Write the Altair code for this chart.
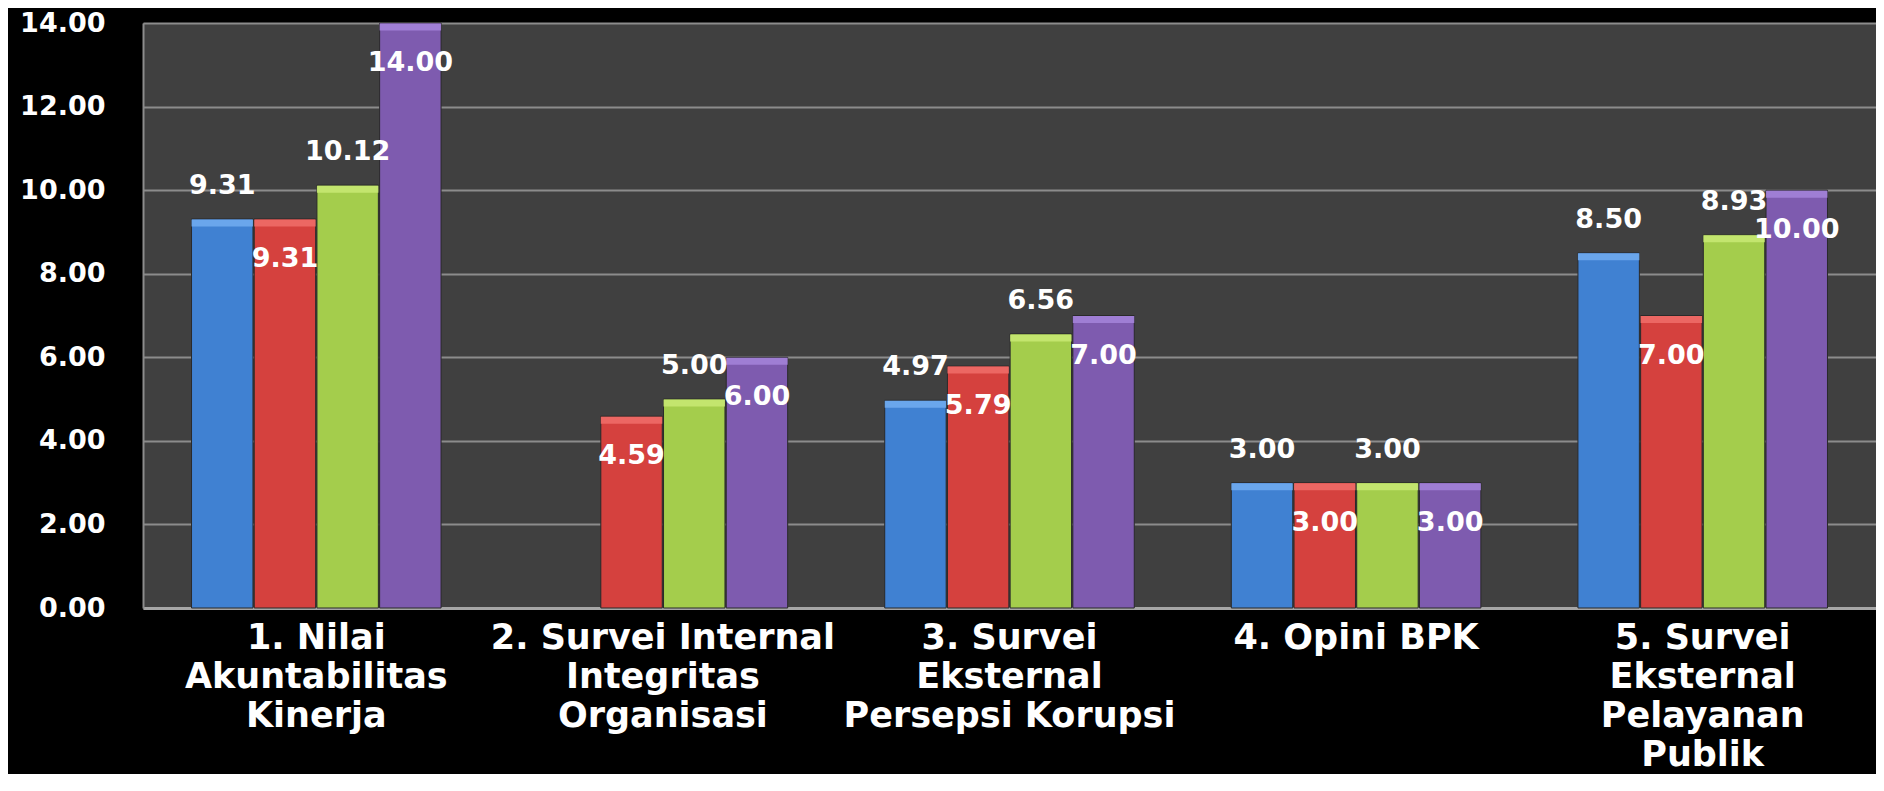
import altair as alt
import pandas as pd

categories = [
    "1. Nilai|Akuntabilitas|Kinerja",
    "2. Survei Internal|Integritas|Organisasi",
    "3. Survei|Eksternal|Persepsi Korupsi",
    "4. Opini BPK",
    "5. Survei|Eksternal|Pelayanan|Publik",
]
series = ["Seri 1", "Seri 2", "Seri 3", "Seri 4"]
colors = ["#4081D2", "#D5413E", "#A4CD4C", "#7E5BAF"]
highlight = ["#6FAAEE", "#EE6B67", "#C6E872", "#A382D8"]
s1 = [9.31, None, 4.97, 3.00, 8.50]
s2 = [9.31, 4.59, 5.79, 3.00, 7.00]
s3 = [10.12, 5.00, 6.56, 3.00, 8.93]
s4 = [14.00, 6.00, 7.00, 3.00, 10.00]

rows = []
for name, vals in zip(series, [s1, s2, s3, s4]):
    for c, v in zip(categories, vals):
        if v is not None:
            rows.append({"cat": c, "series": name, "value": v})
df = pd.DataFrame(rows)

FONT_NUM = "DejaVu Sans"

x = alt.X("cat:N", sort=categories, title=None,
          scale=alt.Scale(paddingInner=0.28, paddingOuter=0.14),
          axis=alt.Axis(labelExpr="split(datum.label, '|')", labelAngle=0,
                        labelFont="DejaVu Sans", labelFontSize=35, labelFontWeight="bold",
                        labelColor="white", labelLineHeight=39, labelPadding=12,
                        labelLimit=400, ticks=False, domainColor="#A6A6A6",
                        domainWidth=3, labelOverlap=False))
xo = alt.XOffset("series:N", scale=alt.Scale(domain=series, paddingInner=0.02))
y = alt.Y("value:Q", title=None,
          scale=alt.Scale(domain=[0, 14], nice=False),
          axis=alt.Axis(values=[0, 2, 4, 6, 8, 10, 12, 14], format=".2f",
                        labelFont=FONT_NUM, labelFontSize=27, labelFontWeight="bold",
                        labelColor="white", labelPadding=38, ticks=False,
                        domainColor="#8C8C8C", domainWidth=2,
                        gridColor="#8C8C8C", gridWidth=2))

base = alt.Chart(df)

bars = base.mark_bar(stroke="#2a2a2a", strokeWidth=1).encode(
    x=x, xOffset=xo, y=y,
    color=alt.Color("series:N", scale=alt.Scale(domain=series, range=colors), legend=None),
)

tops = base.mark_tick(thickness=7, yOffset=4, opacity=0.9).encode(
    x=alt.X("cat:N", sort=categories), xOffset=xo, y="value:Q",
    color=alt.Color("series:N", scale=alt.Scale(domain=series, range=highlight), legend=None),
)

above = base.transform_filter(
    alt.FieldOneOfPredicate(field="series", oneOf=["Seri 1", "Seri 3"])
).mark_text(font=FONT_NUM, fontSize=27, fontWeight="bold", color="white",
            baseline="alphabetic", dy=-25).encode(
    x=alt.X("cat:N", sort=categories), xOffset=xo, y="value:Q",
    text=alt.Text("value:Q", format=".2f"),
)

inside = base.transform_filter(
    alt.FieldOneOfPredicate(field="series", oneOf=["Seri 2", "Seri 4"])
).mark_text(font=FONT_NUM, fontSize=27, fontWeight="bold", color="white",
            baseline="alphabetic", dy=48).encode(
    x=alt.X("cat:N", sort=categories), xOffset=xo, y="value:Q",
    text=alt.Text("value:Q", format=".2f"),
)

chart = alt.layer(bars, tops, above, inside).resolve_scale(color="independent").properties(
    width=1733, height=585,
    padding={"left": 135, "top": 15, "right": 0, "bottom": 166},
    autosize=alt.AutoSizeParams(type="none"),
    background="black",
).configure_view(fill="#404040", strokeWidth=0)

chart.save("out.html", embed_options={"renderer": "svg", "actions": False})
